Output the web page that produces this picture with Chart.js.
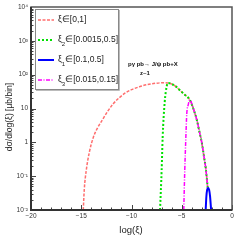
<!DOCTYPE html>
<html>
<head>
<meta charset="utf-8">
<script src="https://cdn.jsdelivr.net/npm/chart.js@4/dist/chart.umd.min.js"></script>
<style>
  html, body { margin: 0; padding: 0; background: #fff; }
</style>
</head>
<body>
<canvas id="chart" width="240" height="240"></canvas>
<script>
// xi in [0,1]
const fullX = [-14.8, -14.7, -14.5, -14.2, -13.8, -13.4, -12.9, -12.4, -11.8, -11.2, -10.6, -10.0, -9.2, -8.4, -7.5, -6.8, -6.4, -6.0, -5.6, -5.2, -4.8, -4.2, -3.8, -3.5, -3.2, -3.0, -2.8, -2.6, -2.4];
const fullY = [0.01, 0.04, 0.15, 0.5, 1.4, 2.6, 4.6, 8, 14, 21, 29, 36, 44, 51, 56, 58, 57, 53, 45, 35, 27, 18, 9, 4.6, 1.8, 0.96, 0.4, 0.16, 0.04];
// xi2 in [0.0015,0.5]
const xi2X = [-7.16, -7.0, -6.9, -6.7, -6.5, -6.35, -6.0, -5.6, -5.2, -4.8, -4.2, -3.8, -3.5, -3.2, -3.0, -2.8, -2.6, -2.4];
const xi2Y = [0.01, 0.15, 1.4, 15, 45, 57, 53, 45, 35, 27, 18, 9, 4.6, 1.8, 0.96, 0.4, 0.16, 0.04];
// xi1 in [0.1,0.5]
const xi1X = [-2.62, -2.55, -2.47, -2.38, -2.28, -2.18, -2.08];
const xi1Y = [0.01, 0.025, 0.04, 0.045, 0.04, 0.025, 0.01];
// xi3 in [0.015,0.15]
const xi3X = [-4.8, -4.7, -4.6, -4.5, -4.35, -4.2, -3.8, -3.5, -3.2, -3.0, -2.8, -2.6, -2.4];
const xi3Y = [0.01, 0.15, 1.2, 7, 13, 18, 9, 4.6, 1.8, 0.96, 0.4, 0.16, 0.04];

const xTicks = [-20, -15, -10, -5, 0];
const xTickLabels = ["\u221220", "\u221215", "\u221210", "\u22125", "0"];
const yTicks = [0.01, 0.1, 1, 10, 100, 1000, 10000];
const yTickLabels = ["10\u207b\u00b2", "10\u207b\u00b9", "1", "10", "10\u00b2", "10\u00b3", "10\u2074"];

const legendNames = [
  { base: "\u03be", sub: "", rest: "\u2208[0,1]" },
  { base: "\u03be", sub: "2", rest: "\u2208[0.0015,0.5]" },
  { base: "\u03be", sub: "1", rest: "\u2208[0.1,0.5]" },
  { base: "\u03be", sub: "3", rest: "\u2208[0.015,0.15]" },
];

const pts = (xs, ys) => xs.map((x, i) => ({ x: x, y: ys[i] }));

const FONT = "'Liberation Sans', Arial, sans-serif";

const decor = {
  id: "decor",
  afterDraw(chart) {
    const ctx = chart.ctx;
    const a = chart.chartArea;
    const xs = chart.scales.x;
    const ys = chart.scales.y;
    ctx.save();

    // ticks inside the frame
    ctx.strokeStyle = "#444";
    ctx.lineWidth = 1;
    ctx.beginPath();
    for (let v = -20; v <= 0; v++) {
      const px = Math.round(xs.getPixelForValue(v)) + 0.5;
      const len = v % 5 === 0 ? 5 : 2.5;
      ctx.moveTo(px, a.bottom);
      ctx.lineTo(px, a.bottom - len);
    }
    for (let e = -2; e < 4; e++) {
      for (let m = 1; m < 10; m++) {
        const py = Math.round(ys.getPixelForValue(m * Math.pow(10, e))) + 0.5;
        const len = m === 1 ? 5 : 2.5;
        ctx.moveTo(a.left, py);
        ctx.lineTo(a.left + len, py);
      }
    }
    ctx.stroke();

    // frame
    ctx.strokeStyle = "#555";
    ctx.lineWidth = 1.5;
    ctx.strokeRect(a.left, a.top, a.right - a.left, a.bottom - a.top);
    ctx.strokeStyle = "#333";
    ctx.lineWidth = 2;
    ctx.beginPath();
    ctx.moveTo(a.left, a.top);
    ctx.lineTo(a.left, a.bottom);
    ctx.lineTo(a.right, a.bottom);
    ctx.stroke();

    // tick labels
    ctx.fillStyle = "#333";
    ctx.font = "6.5px " + FONT;
    ctx.textAlign = "right";
    ctx.textBaseline = "middle";
    yTicks.forEach((v, i) => {
      ctx.fillText(yTickLabels[i], a.left - 3, ys.getPixelForValue(v));
    });
    ctx.textAlign = "center";
    ctx.textBaseline = "top";
    xTicks.forEach((v, i) => {
      ctx.fillText(xTickLabels[i], xs.getPixelForValue(v), a.bottom + 3);
    });

    // axis titles
    ctx.fillStyle = "#222";
    ctx.font = "9.5px " + FONT;
    ctx.textBaseline = "middle";
    ctx.fillText("log(\u03be)", 131, 230);
    ctx.save();
    ctx.translate(10, 117);
    ctx.rotate(-Math.PI / 2);
    ctx.font = "8.5px " + FONT;
    ctx.fillText("d\u03c3/dlog(\u03be) [\u03bcb/bin]", 0, 0);
    ctx.restore();

    // process label
    ctx.font = "bold 6px " + FONT;
    ctx.textAlign = "left";
    ctx.fillStyle = "#111";
    ctx.fillText("p\u03b3 pb\u2192 J/\u03c8 pb+X", 128, 64);
    ctx.fillText("z~1", 140, 73);

    // legend
    ctx.fillStyle = "#fff";
    ctx.fillRect(35, 9, 83, 80);
    ctx.strokeStyle = "#888";
    ctx.lineWidth = 1;
    ctx.strokeRect(35.5, 9.5, 83, 80);
    ctx.strokeStyle = "#bbb";
    ctx.beginPath();
    ctx.moveTo(119.5, 10);
    ctx.lineTo(119.5, 90.5);
    ctx.lineTo(36, 90.5);
    ctx.stroke();
    chart.data.datasets.forEach((ds, i) => {
      const y = 20 + i * 20;
      ctx.strokeStyle = ds.borderColor;
      ctx.lineWidth = ds.borderWidth;
      ctx.setLineDash(ds.borderDash || []);
      ctx.beginPath();
      ctx.moveTo(38, y);
      ctx.lineTo(54, y);
      ctx.stroke();
      ctx.setLineDash([]);
      const n = legendNames[i];
      ctx.fillStyle = "#222";
      ctx.font = "8.5px " + FONT;
      ctx.textBaseline = "middle";
      let x = 58;
      ctx.fillText(n.base, x, y);
      x += ctx.measureText(n.base).width;
      if (n.sub) {
        ctx.font = "6px " + FONT;
        ctx.fillText(n.sub, x, y + 4);
        x += ctx.measureText(n.sub).width;
        ctx.font = "8.5px " + FONT;
      }
      ctx.fillText(n.rest, x, y);
    });
    ctx.restore();
  },
};

new Chart(document.getElementById("chart"), {
  type: "line",
  data: {
    datasets: [
      {
        label: "xi in [0,1]",
        data: pts(fullX, fullY),
        borderColor: "rgb(255, 110, 110)",
        borderWidth: 1.5,
        borderDash: [3, 1.5],
        order: 4,
      },
      {
        label: "xi2 in [0.0015,0.5]",
        data: pts(xi2X, xi2Y),
        borderColor: "rgb(0, 225, 0)",
        borderWidth: 2,
        borderDash: [2, 2],
        order: 3,
      },
      {
        label: "xi1 in [0.1,0.5]",
        data: pts(xi1X, xi1Y),
        borderColor: "rgb(0, 0, 255)",
        borderWidth: 2,
        order: 1,
      },
      {
        label: "xi3 in [0.015,0.15]",
        data: pts(xi3X, xi3Y),
        borderColor: "rgb(255, 0, 255)",
        borderWidth: 1.5,
        borderDash: [4, 1.5, 1, 1.5],
        order: 2,
      },
    ],
  },
  options: {
    responsive: false,
    animation: false,
    devicePixelRatio: 1,
    layout: { padding: { left: 31, right: 8, top: 7, bottom: 30 } },
    elements: {
      point: { radius: 0 },
      line: { cubicInterpolationMode: "monotone", fill: false },
    },
    plugins: {
      legend: { display: false },
      tooltip: { enabled: false },
    },
    scales: {
      x: { type: "linear", min: -20, max: 0, display: false },
      y: { type: "logarithmic", min: 0.01, max: 10000, display: false },
    },
  },
  plugins: [decor],
});
</script>
</body>
</html>
